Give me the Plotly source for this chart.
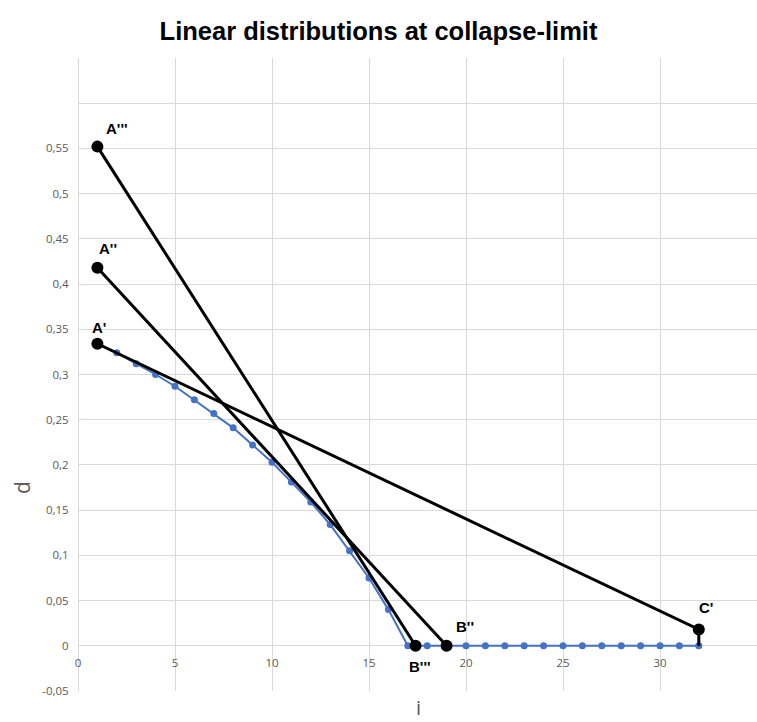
import plotly.graph_objects as go

# Distribution d over element index i (blue series)
i_vals = list(range(1, 33))
d_vals = [0.334, 0.324, 0.312, 0.300, 0.287, 0.272, 0.257, 0.241, 0.222, 0.203,
          0.181, 0.159, 0.134, 0.105, 0.075, 0.040, 0.0, 0.0, 0.0, 0.0,
          0.0, 0.0, 0.0, 0.0, 0.0, 0.0, 0.0, 0.0, 0.0, 0.0, 0.0, 0.0]

# Linear distributions (black lines)
line1_x = [1, 32, 32]          # A' -> C' -> down to axis
line1_y = [0.334, 0.018, 0.0]
line2_x = [1, 19]              # A'' -> B''
line2_y = [0.418, 0.0]
line3_x = [1, 17.4]            # A''' -> B'''
line3_y = [0.552, 0.0]

# Point labels: (text, x, y, xshift, yshift)
point_labels = [
    ("A'''", 1, 0.552, 20, 18),
    ("A''", 1, 0.418, 11, 19),
    ("A'", 1, 0.334, 2, 16),
    ("B''", 19, 0.0, 18, 19),
    ("B'''", 17.4, 0.0, 4, -21),
    ("C'", 32, 0.018, 7, 22),
]

# Axis ticks
x_tickvals = [0, 5, 10, 15, 20, 25, 30, 35]
y_tickvals = [-0.05, 0, 0.05, 0.1, 0.15, 0.2, 0.25, 0.3, 0.35, 0.4, 0.45, 0.5, 0.55, 0.6, 0.65]
y_ticktext = ["-0,05", "0", "0,05", "0,1", "0,15", "0,2", "0,25", "0,3", "0,35",
              "0,4", "0,45", "0,5", "0,55", "", ""]

Y_MIN, Y_MAX = -0.05, 0.65
BLUE = "#4472C4"
GRID = "#d9d9d9"
TICK_FONT = dict(family="Open Sans, Arial, sans-serif", size=11.5, color="#595959")

fig = go.Figure()

fig.add_trace(go.Scatter(
    x=i_vals, y=d_vals, mode="lines+markers",
    line=dict(color=BLUE, width=2),
    marker=dict(color=BLUE, size=7, opacity=1, line=dict(width=0)),
    showlegend=False,
))

for lx, ly, msizes in [
    (line1_x, line1_y, [12, 12, 0]),
    (line2_x, line2_y, [12, 12]),
    (line3_x, line3_y, [12, 12]),
]:
    fig.add_trace(go.Scatter(
        x=lx, y=ly, mode="lines+markers",
        line=dict(color="black", width=3),
        marker=dict(color="black", size=msizes, opacity=1, line=dict(width=0)),
        showlegend=False,
    ))

for text, x, y, xs, ys in point_labels:
    fig.add_annotation(
        x=x, y=y, text=f"<b>{text}</b>", showarrow=False,
        xshift=xs, yshift=ys,
        font=dict(family="Liberation Sans, Arial, sans-serif", size=15, color="black"),
    )

# Axis titles
fig.add_annotation(
    text="i", xref="paper", yref="paper", x=(418 - 78) / 679, y=-(707 - 691) / 633,
    xanchor="center", yanchor="middle", showarrow=False,
    font=dict(family="Open Sans, Arial, sans-serif", size=20, color="#595959"),
)
fig.add_annotation(
    text="d", xref="paper", yref="paper", x=(22 - 78) / 679, y=(691 - 488) / 633,
    xanchor="center", yanchor="middle",
    textangle=-90, showarrow=False,
    font=dict(family="Open Sans, Arial, sans-serif", size=21, color="#595959"),
)

fig.update_layout(
    width=757, height=722,
    margin=dict(l=78, r=0, t=58, b=31),
    paper_bgcolor="white", plot_bgcolor="white",
    separators=",.",
    title=dict(
        text="<b>Linear distributions at collapse-limit</b>",
        x=0.5, xanchor="center", y=1 - 31 / 722, yanchor="middle", yref="container",
        font=dict(family="Liberation Sans, Arial, sans-serif", size=25.5, color="black"),
    ),
    xaxis=dict(
        range=[0, 35], tickvals=x_tickvals,
        showgrid=True, gridcolor=GRID, gridwidth=1,
        zeroline=True, zerolinecolor=GRID, zerolinewidth=1,
        showline=False,
        anchor="free", position=(0 - Y_MIN) / (Y_MAX - Y_MIN),
        ticks="outside", ticklen=6, tickcolor="rgba(0,0,0,0)",
        tickfont=TICK_FONT,
    ),
    yaxis=dict(
        range=[Y_MIN, Y_MAX], tickvals=y_tickvals, ticktext=y_ticktext,
        showgrid=True, gridcolor=GRID, gridwidth=1,
        zeroline=True, zerolinecolor=GRID, zerolinewidth=1,
        showline=False,
        ticks="outside", ticklen=6, tickcolor="rgba(0,0,0,0)",
        tickfont=TICK_FONT,
    ),
)

fig.write_html("out.html")
